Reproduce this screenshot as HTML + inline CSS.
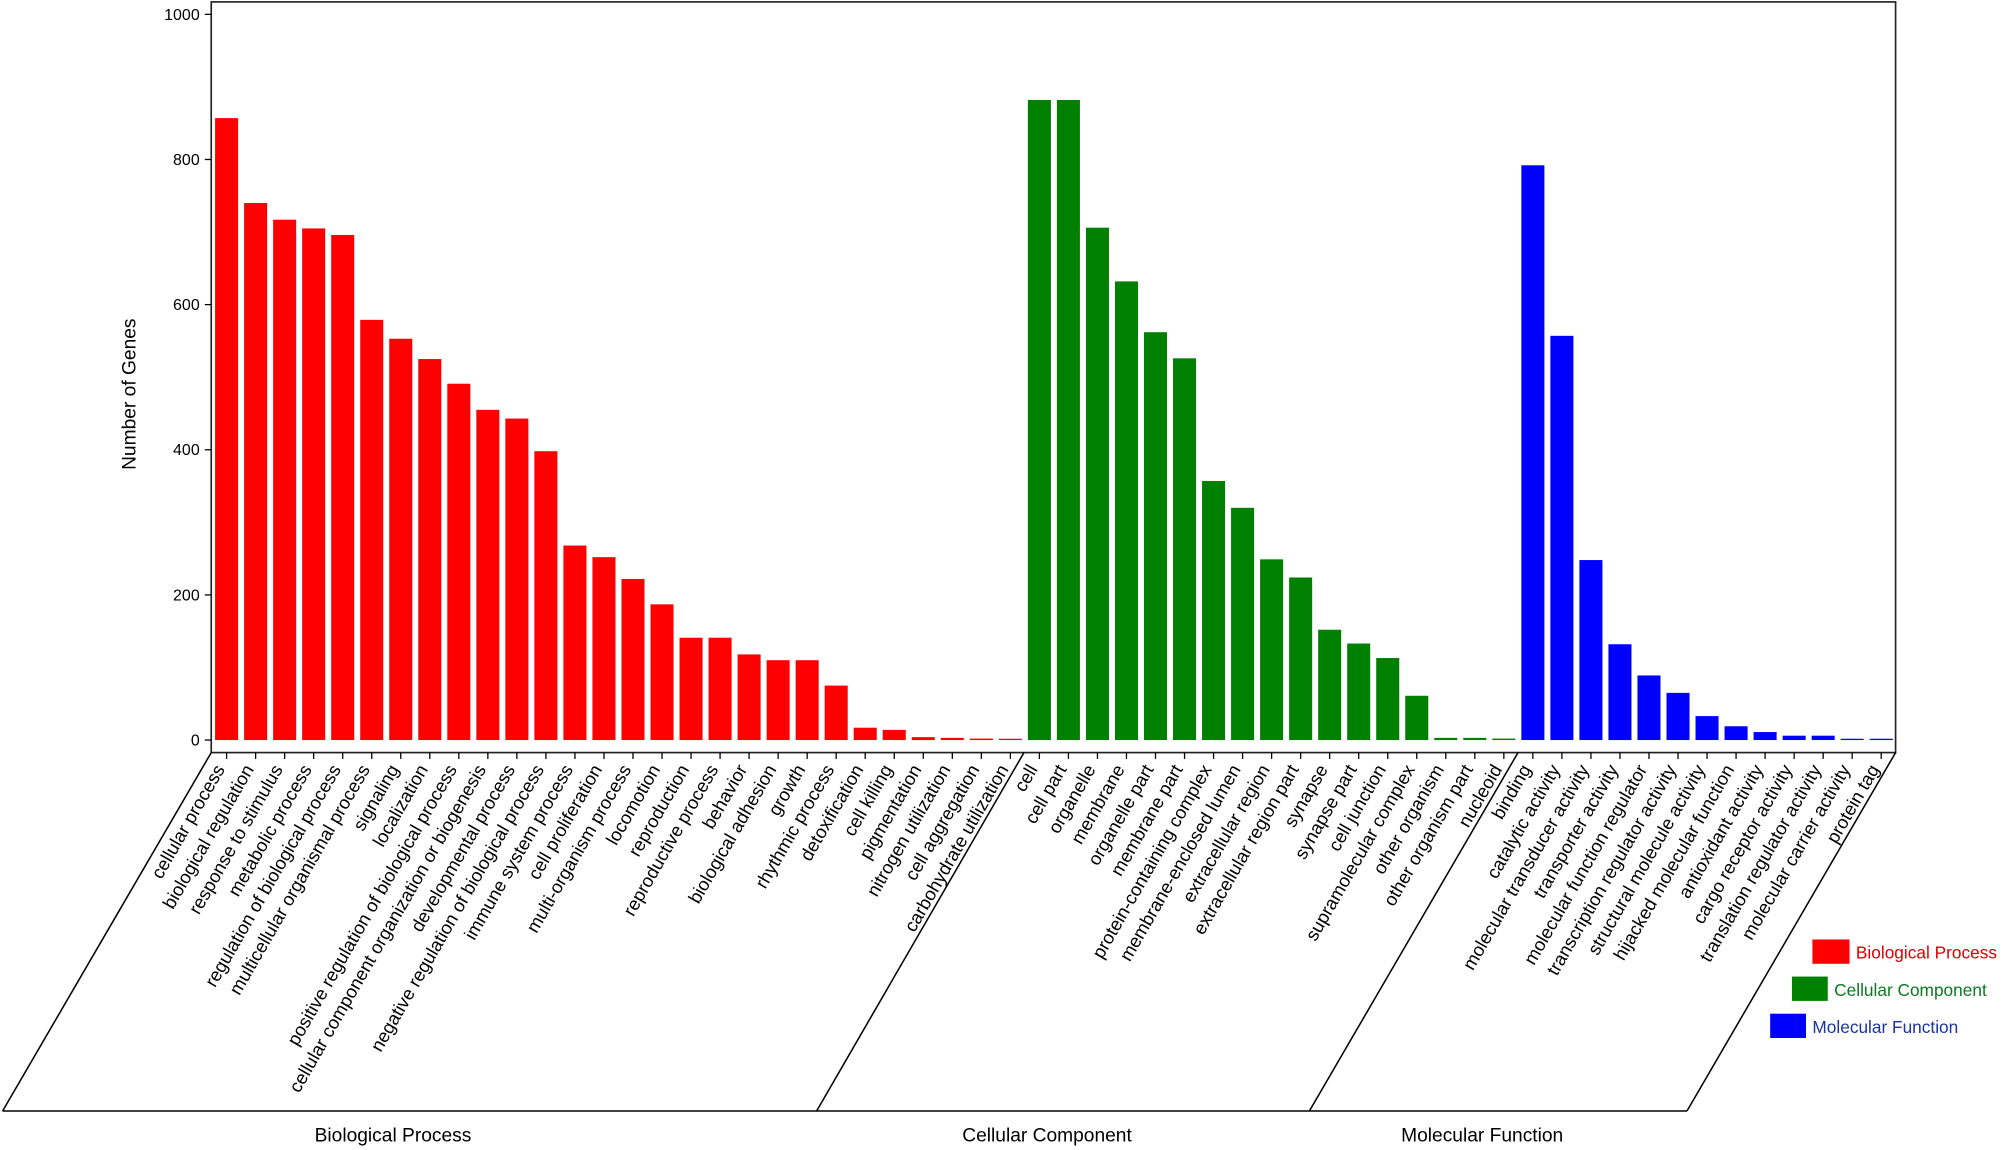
<!DOCTYPE html>
<html><head><meta charset="utf-8"><style>html,body{margin:0;padding:0;background:#fff}svg{display:block}</style></head>
<body>
<svg id="s" xmlns="http://www.w3.org/2000/svg" width="2007" height="1150" viewBox="0 0 1568 898.5" font-family="Liberation Sans, Arial, sans-serif">
<rect width="1568" height="898.5" fill="#fff"/>
<g id="bars"></g>
<rect x="165" y="1.5" width="1316" height="586.5" fill="none" stroke="#222" stroke-width="1.3"/>
<g stroke="#000" stroke-width="1.2" fill="none">
<line x1="165" y1="588" x2="2" y2="868"/>
<line x1="800" y1="588" x2="638" y2="868"/>
<line x1="1186" y1="588" x2="1023" y2="868"/>
<line x1="1481" y1="588" x2="1318" y2="868"/>
<line x1="2" y1="868" x2="1318" y2="868"/>
</g>
<g font-size="12.5" text-anchor="end" fill="#000">
<text x="156" y="15.5">1000</text><text x="156" y="128.8">800</text><text x="156" y="242.2">600</text><text x="156" y="355.6">400</text><text x="156" y="469">200</text><text x="156" y="582.4">0</text>
</g>
<g stroke="#000" stroke-width="1"><line x1="160" y1="11.2" x2="165" y2="11.2"/><line x1="160" y1="124.6" x2="165" y2="124.6"/><line x1="160" y1="238" x2="165" y2="238"/><line x1="160" y1="351.4" x2="165" y2="351.4"/><line x1="160" y1="464.8" x2="165" y2="464.8"/><line x1="160" y1="578.2" x2="165" y2="578.2"/></g>
<text transform="translate(106,308) rotate(-90)" font-size="15" text-anchor="middle">Number of Genes</text>
<g id="labels" font-size="14.4" text-anchor="end"></g>
<g font-size="15" text-anchor="middle"><text x="307" y="892">Biological Process</text><text x="818" y="892">Cellular Component</text><text x="1158" y="892">Molecular Function</text></g>
<rect x="1416" y="734" width="29" height="19" fill="#ff0000"/><text x="1450" y="749" font-size="13.5" fill="#e00000">Biological Process</text>
<rect x="1400" y="763" width="28" height="19" fill="#008000"/><text x="1433" y="778" font-size="13.5" fill="#0a7a1e">Cellular Component</text>
<rect x="1383" y="792" width="28" height="19" fill="#0000ff"/><text x="1416" y="807" font-size="13.5" fill="#1a35a0">Molecular Function</text>
<g id="ticks" stroke="#000" stroke-width="1"></g>
</svg>
<script>
var data=[
["cellular process",857,0],["biological regulation",740,0],["response to stimulus",717,0],["metabolic process",705,0],["regulation of biological process",696,0],["multicellular organismal process",579,0],["signaling",553,0],["localization",525,0],["positive regulation of biological process",491,0],["cellular component organization or biogenesis",455,0],["developmental process",443,0],["negative regulation of biological process",398,0],["immune system process",268,0],["cell proliferation",252,0],["multi-organism process",222,0],["locomotion",187,0],["reproduction",141,0],["reproductive process",141,0],["behavior",118,0],["biological adhesion",110,0],["growth",110,0],["rhythmic process",75,0],["detoxification",17,0],["cell killing",14,0],["pigmentation",4,0],["nitrogen utilization",3,0],["cell aggregation",2,0],["carbohydrate utilization",1,0],
["cell",882,1],["cell part",882,1],["organelle",706,1],["membrane",632,1],["organelle part",562,1],["membrane part",526,1],["protein-containing complex",357,1],["membrane-enclosed lumen",320,1],["extracellular region",249,1],["extracellular region part",224,1],["synapse",152,1],["synapse part",133,1],["cell junction",113,1],["supramolecular complex",61,1],["other organism",3,1],["other organism part",3,1],["nucleoid",2,1],
["binding",792,2],["catalytic activity",557,2],["molecular transducer activity",248,2],["transporter activity",132,2],["molecular function regulator",89,2],["transcription regulator activity",65,2],["structural molecule activity",33,2],["hijacked molecular function",19,2],["antioxidant activity",11,2],["cargo receptor activity",6,2],["translation regulator activity",6,2],["molecular carrier activity",1,2],["protein tag",1,2]];
var cols=["#ff0000","#008000","#0000ff"];
var NS="http://www.w3.org/2000/svg";
var B=document.getElementById("bars"),L=document.getElementById("labels"),T=document.getElementById("ticks");
data.forEach(function(d,i){
 var cx=177+i*22.68, h=Math.max(d[1]*0.567,1), y=578.2-h;
 var r=document.createElementNS(NS,"rect");
 r.setAttribute("x",cx-9);r.setAttribute("y",y);r.setAttribute("width",18);r.setAttribute("height",h);r.setAttribute("fill",cols[d[2]]);
 B.appendChild(r);
 var l=document.createElementNS(NS,"line");
 l.setAttribute("x1",cx);l.setAttribute("x2",cx);l.setAttribute("y1",588);l.setAttribute("y2",593);T.appendChild(l);
 var t=document.createElementNS(NS,"text");
 t.setAttribute("transform","translate("+(cx-1)+",601) rotate(-60)");
 t.textContent=d[0];L.appendChild(t);
});
</script>
</body></html>
